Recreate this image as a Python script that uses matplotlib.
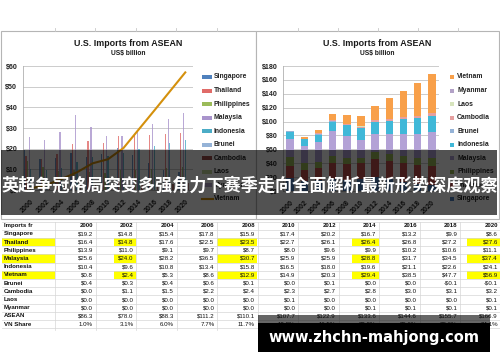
import matplotlib
matplotlib.use('Agg')
import matplotlib.pyplot as plt
from matplotlib.patches import Rectangle
import numpy as np

years = [2000, 2002, 2004, 2006, 2008, 2010, 2012, 2014, 2016, 2018, 2020]
singapore = [19.2, 14.8, 15.4, 17.8, 15.9, 17.4, 20.2, 16.7, 13.2, 9.9, 8.6]
thailand = [16.4, 14.8, 17.6, 22.5, 23.5, 22.7, 26.1, 26.4, 26.8, 27.2, 27.6]
philippines = [13.9, 11.0, 9.1, 9.7, 8.7, 8.0, 9.6, 9.9, 10.2, 10.6, 11.1]
malaysia = [25.6, 24.0, 28.2, 36.5, 30.7, 25.9, 25.9, 28.8, 31.7, 34.5, 37.4]
indonesia = [10.4, 9.6, 10.8, 13.4, 15.8, 16.5, 18.0, 19.6, 21.1, 22.6, 24.1]
vietnam = [0.8, 2.4, 5.3, 8.6, 12.9, 14.9, 20.3, 29.4, 38.5, 47.7, 56.9]
brunei = [0.4, 0.3, 0.4, 0.6, 0.1, 0.0, 0.1, 0.0, 0.0, -0.1, -0.1]
cambodia = [0.0, 1.1, 1.5, 2.2, 2.4, 2.3, 2.7, 2.8, 3.0, 3.1, 3.2]
laos = [0.0, 0.0, 0.0, 0.0, 0.0, 0.1, 0.0, 0.0, 0.0, 0.0, 0.1]
myanmar = [0.0, 0.0, 0.0, 0.0, 0.0, 0.0, 0.0, 0.1, 0.1, 0.1, 0.1]
asean = [86.3, 78.0, 88.3, 111.2, 110.1, 107.7, 122.9, 133.6, 144.6, 155.7, 166.9]
vn_share = [1.0, 3.1, 6.0, 7.7, 11.7, 13.8, 16.5, 22.0, 26.6, 30.6, 34.1]

chart_title = "U.S. Imports from ASEAN"
chart_sub = "US$ billion"
banner = "英超争冠格局突变多强角力下赛季走向全面解析最新形势深度观察"
site = "www.zhchn-mahjong.com"

# clustered chart (left), vietnam is the line
left_names = ['Singapore', 'Thailand', 'Philippines', 'Malaysia', 'Indonesia',
              'Brunei', 'Cambodia', 'Laos', 'Myanmar']
left_vals = [singapore, thailand, philippines, malaysia, indonesia,
             brunei, cambodia, laos, myanmar]
left_cols = ['#4f81bd', '#e06b68', '#9bbb59', '#a994cc', '#4bacc6',
             '#95b3d7', '#a0504d', '#c3d69b', '#b3a2c7']
vn_col = '#d4900c'

# stacked chart (right), bottom to top
right_names = left_names[:5] + ['Brunei', 'Cambodia', 'Laos', 'Myanmar', 'Vietnam']
right_vals = [singapore, thailand, philippines, malaysia, indonesia,
              brunei, cambodia, laos, myanmar, vietnam]
right_cols = ['#4f81bd', '#c0504d', '#9bbb59', '#b3a2d6', '#40b8d8',
              '#95b3d7', '#e6a0a0', '#d7e4bd', '#b3a2c7', '#f8a04a']

table_rows = [('Singapore', singapore), ('Thailand', thailand),
              ('Philippines', philippines), ('Malaysia', malaysia),
              ('Indonesia', indonesia), ('Vietnam', vietnam), ('Brunei', brunei),
              ('Cambodia', cambodia), ('Laos', laos), ('Myanmar', myanmar),
              ('ASEAN', asean)]
yellow_rows = ['Thailand', 'Malaysia', 'Vietnam']

W, H = 500, 362
fig = plt.figure(figsize=(5, 3.62), dpi=100)


def box(x0, y0, x1, y1, **kw):
    return fig.add_axes([x0 / W, 1 - y1 / H, (x1 - x0) / W, (y1 - y0) / H], **kw)


sans = 'Liberation Sans'

bg = box(0, 0, W, H)
bg.set_xlim(0, W)
bg.set_ylim(H, 0)
bg.axis('off')

# chart panels
for x0, x1 in [(1, 256), (256, 499)]:
    bg.add_patch(Rectangle((x0, 31), x1 - x0, 188, fc='white', ec='#b5b5b5', lw=0.8))
for x in [55, 95, 136, 176, 217, 298, 338, 378, 418, 458]:
    bg.plot([x, x], [28, 31], color='#c8c8c8', lw=0.6)

for cx in [128, 377]:
    bg.text(cx, 43, chart_title, ha='center', va='center', fontsize=6.4,
            fontweight='bold', family=sans, color='#1a1a1a')
    bg.text(cx, 53, chart_sub, ha='center', va='center', fontsize=4.8,
            fontweight='bold', family=sans, color='#1a1a1a')

# legends
leg_y = [77 + 13.55 * i for i in range(10)]
for i, (n, c) in enumerate(zip(left_names, left_cols)):
    bg.add_patch(Rectangle((202, leg_y[i] - 2), 10, 4, fc=c, ec='none'))
    bg.text(214, leg_y[i], n, va='center', fontsize=4.9, fontweight='bold',
            family=sans, color='#222222')
bg.plot([202, 213], [leg_y[9], leg_y[9]], color=vn_col, lw=1.5)
bg.text(214, leg_y[9], 'Vietnam', va='center', fontsize=4.9, fontweight='bold',
        family=sans, color='#222222')

for i, j in enumerate(range(9, -1, -1)):
    bg.add_patch(Rectangle((449.5, leg_y[i] - 2), 4.5, 4, fc=right_cols[j], ec='none'))
    bg.text(457, leg_y[i], right_names[j], va='center', fontsize=4.9,
            fontweight='bold', family=sans, color='#222222')

# table
row_top = 221.6
row_h = 8.2
right_ends = [93 + 40.5 * i for i in range(11)]
col_lines = [55] + [r + 2.5 for r in right_ends]
hl_cols = {1: (114, 136), 4: (217, 257), 7: (352, 378.5), 10: (467, 500)}
for r, (name, vals) in enumerate(table_rows):
    if name in yellow_rows:
        ys = row_top + row_h * (r + 1)
        bg.add_patch(Rectangle((2, ys), 53, row_h, fc='#ffff00', ec='none'))
        for k, (a, b) in hl_cols.items():
            bg.add_patch(Rectangle((a, ys), b - a, row_h, fc='#ffff00', ec='none'))
for k in range(14):
    y = row_top + row_h * k
    bg.plot([2, 500], [y, y], color='#d6d6d6', lw=0.5)
for x in col_lines:
    bg.plot([x, x], [row_top, row_top + row_h * 13 + 2], color='#d6d6d6', lw=0.5)

tkw = dict(fontsize=4.4, family=sans, color='#111111', va='center')
bg.text(4, row_top + row_h * 0.5, 'Imports fr', fontweight='bold', **tkw)
for i, yr in enumerate(years):
    bg.text(right_ends[i], row_top + row_h * 0.5, str(yr), ha='right',
            fontweight='bold', **tkw)
for r, (name, vals) in enumerate(table_rows):
    yc = row_top + row_h * (r + 1.5)
    bg.text(4, yc, name, fontweight='bold', **tkw)
    for i, v in enumerate(vals):
        s = ('-$%.1f' % -v) if v < 0 else ('$%.1f' % v)
        bg.text(right_ends[i], yc, s, ha='right', **tkw)
yc = row_top + row_h * 12.5
bg.text(4, yc, 'VN Share', fontweight='bold', **tkw)
for i, v in enumerate(vn_share):
    bg.text(right_ends[i], yc, '%.1f%%' % v, ha='right', **tkw)

x = np.arange(len(years))

# left chart
ax1 = box(23, 66, 193, 190)
ax1.set_facecolor('none')
for i, (vals, c) in enumerate(zip(left_vals, left_cols)):
    ax1.bar(x + (i - 4) * 0.1, vals, width=0.085, color=c, alpha=0.8, zorder=2)
ax1.plot(x, vietnam, color=vn_col, lw=1.5, zorder=3)
ax1.set_xlim(-0.5, 10.5)
ax1.set_ylim(0, 60)
ax1.set_yticks(range(0, 61, 10))
ax1.set_yticklabels(['$%d' % v for v in range(0, 61, 10)])

# right chart
ax2 = box(283, 66, 439, 191)
ax2.set_facecolor('none')
bottom = np.zeros(len(years))
for vals, c in zip(right_vals, right_cols):
    ax2.bar(x, vals, bottom=bottom, width=0.52, color=c, zorder=2)
    bottom = bottom + np.array(vals)
ax2.set_xlim(-0.5, 10.5)
ax2.set_ylim(0, 180)
ax2.set_yticks(range(0, 181, 20))
ax2.set_yticklabels(['$%d' % v for v in range(0, 181, 20)])

for ax in (ax1, ax2):
    ax.grid(axis='y', color='#c4c4c4', lw=0.6, zorder=0)
    ax.set_axisbelow(True)
    for s in ['top', 'right']:
        ax.spines[s].set_visible(False)
    for s in ['left', 'bottom']:
        ax.spines[s].set_color('#b0b0b0')
        ax.spines[s].set_linewidth(0.6)
    ax.tick_params(axis='y', length=0, pad=4)
    ax.tick_params(axis='x', length=0, pad=6)
    ax.set_xticks(x)
    ax.set_xticklabels([str(y) for y in years], rotation=45, ha='right',
                       va='top', rotation_mode='anchor')
    for lab in ax.get_yticklabels() + ax.get_xticklabels():
        lab.set_family(sans)
        lab.set_fontweight('bold')
        lab.set_fontsize(5.1)
        lab.set_color('#222222')

# overlays
ov = box(0, 0, W, H)
ov.set_zorder(10)
ov.set_xlim(0, W)
ov.set_ylim(H, 0)
ov.axis('off')
ov.add_patch(Rectangle((1, 150), 496, 65, fc='black', alpha=0.68, ec='none'))
ov.text(250, 185.5, banner, ha='center', va='center', color='white',
        fontsize=12.3, fontweight='bold',
        family=['Noto Sans CJK SC', 'DejaVu Sans'])
ov.add_patch(Rectangle((258, 315), 232, 8, fc='black', alpha=0.6, ec='none'))
ov.add_patch(Rectangle((258, 323), 232, 29, fc='black', ec='none'))
ov.text(374, 337.5, site, ha='center', va='center', color='white',
        fontsize=10.5, fontweight='bold', family='DejaVu Sans')

fig.savefig('out.png', dpi=100)
